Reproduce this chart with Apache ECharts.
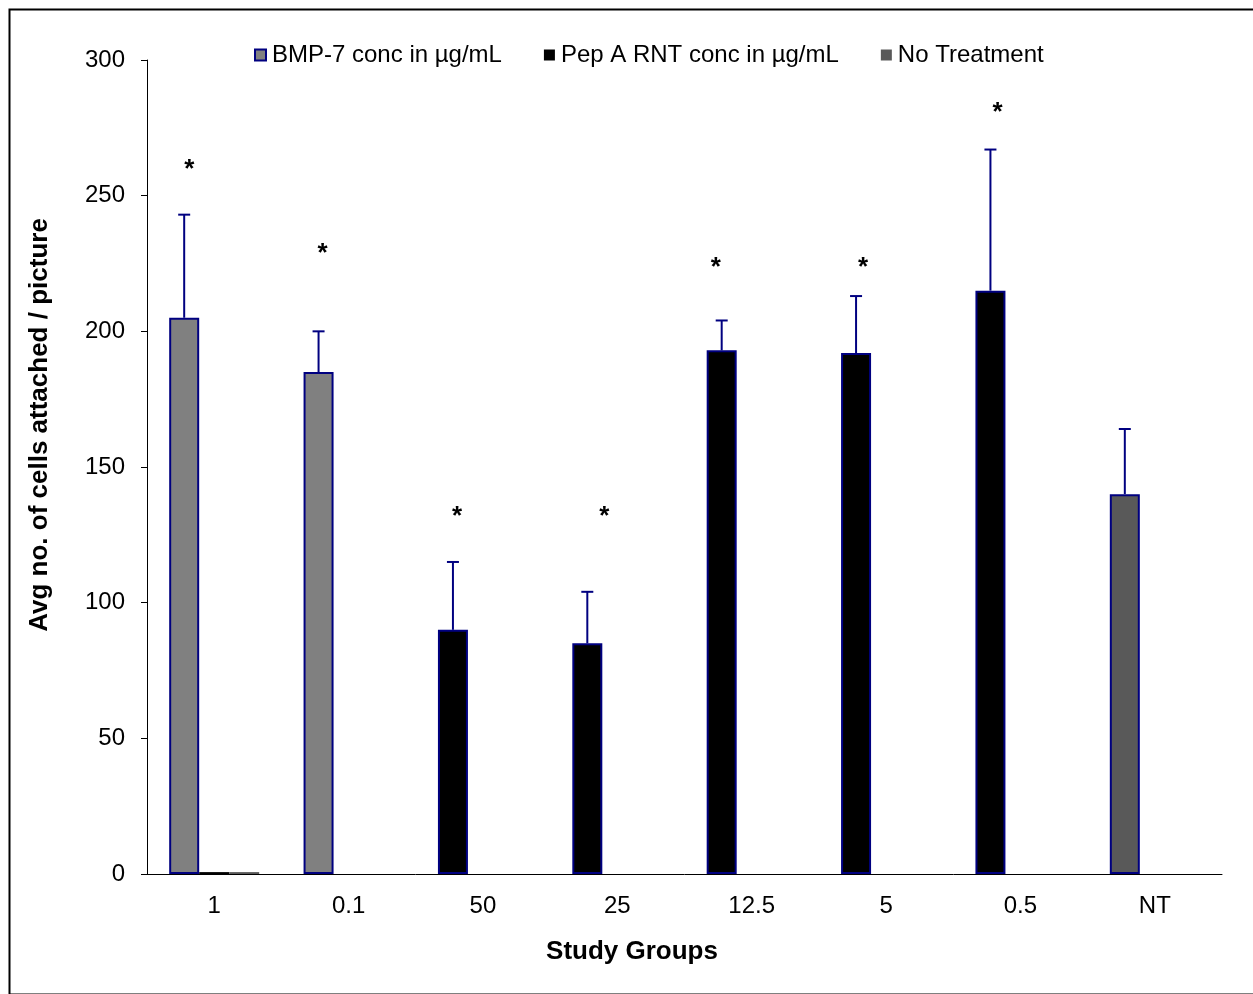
<!DOCTYPE html>
<html>
<head>
<meta charset="utf-8">
<script src="https://cdn.jsdelivr.net/npm/echarts@6/dist/echarts.min.js"></script>
<style>
	html, body { margin: 0; padding: 0; background: #fff; }
	#chart { width: 1253px; height: 994px; }
</style>
</head>
<body>
<div id="chart"></div>
<script>
var groups = ['1', '0.1', '50', '25', '12.5', '5', '0.5', 'NT'];
var groupKind = ['bmp', 'bmp', 'pep', 'pep', 'pep', 'pep', 'pep', 'nt'];
var means = [205, 185, 90, 85, 193, 192, 215, 140];
var errUp = [38, 15, 25, 19, 11, 21, 52, 24];
var starAt = [261, 230, 133, 133, 225, 225, 282, null];
var pepLegendVals = [0.7, null, null, null, null, null, null, null];
var ntLegendVals = [0.7, null, null, null, null, null, null, null];

(function() {
	var navy = '#000080';
	var fills = { bmp: '#808080', pep: '#000000', nt: '#595959' };
	var barW = 30;
	var starNudge = [5, 4, 4, 17, -6, 7, 7, 0]; // hand-placed asterisks in the original
	var font = '"Liberation Sans", Arial, sans-serif';

	var chart = echarts.init(document.getElementById('chart'));

	var mainData = means.map(function(v, i) {
		return { value: v, itemStyle: { color: fills[groupKind[i]] } };
	});

	chart.setOption({
		animation: false,
		textStyle: { fontFamily: font },
		grid: { left: 147, right: 31, top: 60, bottom: 120 },
		legend: {
			top: 38, left: 249,
			itemWidth: 11, itemHeight: 11, itemGap: 42,
			icon: 'rect',
			textStyle: { fontSize: 24, color: '#000', fontFamily: font, padding: [0, 0, 0, 1] },
			data: ['BMP-7 conc in µg/mL', 'Pep A RNT conc in µg/mL', 'No Treatment']
		},
		xAxis: {
			type: 'category',
			data: groups,
			axisLine: { lineStyle: { color: '#000', width: 1 } },
			axisTick: { length: 6, lineStyle: { color: '#000' } },
			axisLabel: { fontSize: 24, color: '#000', margin: 20 }
		},
		yAxis: {
			type: 'value', min: 0, max: 300, interval: 50,
			splitLine: { show: false },
			axisLine: { show: true, lineStyle: { color: '#000', width: 1 } },
			axisTick: { show: true, length: 6, lineStyle: { color: '#000' } },
			axisLabel: { fontSize: 24, color: '#000', margin: 22 }
		},
		series: [
			{
				name: 'BMP-7 conc in µg/mL',
				type: 'bar',
				barWidth: barW, barGap: '0%',
				itemStyle: { color: fills.bmp, borderColor: navy, borderWidth: 2 },
				data: mainData
			},
			{
				name: 'Pep A RNT conc in µg/mL',
				type: 'bar',
				barWidth: barW,
				itemStyle: { color: fills.pep },
				data: pepLegendVals
			},
			{
				name: 'No Treatment',
				type: 'bar',
				barWidth: barW,
				itemStyle: { color: fills.nt },
				data: ntLegendVals
			},
			{
				type: 'custom',
				silent: true,
				z: 3,
				data: means.map(function(m, i) { return [i, m, m + errUp[i]]; }),
				renderItem: function(params, api) {
					var lo = api.coord([api.value(0), api.value(1)]);
					var hi = api.coord([api.value(0), api.value(2)]);
					var x = lo[0] - barW;
					return {
						type: 'group',
						children: [
							{ type: 'line', shape: { x1: x, y1: lo[1], x2: x, y2: hi[1] }, style: { stroke: navy, lineWidth: 2 } },
							{ type: 'line', shape: { x1: x - 6, y1: hi[1], x2: x + 6, y2: hi[1] }, style: { stroke: navy, lineWidth: 2 } }
						]
					};
				}
			},
			{
				type: 'custom',
				silent: true,
				z: 4,
				data: starAt.map(function(v, i) { return [i, v]; }).filter(function(d) { return d[1] != null; }),
				renderItem: function(params, api) {
					var i = api.value(0);
					var p = api.coord([i, api.value(1)]);
					return {
						type: 'text',
						x: p[0] - barW + starNudge[i], y: p[1] + 4,
						style: { text: '*', font: 'bold 26px ' + font, fill: '#000', align: 'center', verticalAlign: 'middle' }
					};
				}
			}
		],
		graphic: [
			{ type: 'rect', left: 7, top: 7, shape: { width: 1260, height: 985 }, style: { fill: null, stroke: '#000', lineWidth: 2 }, silent: true },
			{ type: 'text', x: 40, y: 425, rotation: Math.PI / 2, style: { text: 'Avg no. of cells attached / picture', font: 'bold 26px ' + font, fill: '#000', align: 'center', verticalAlign: 'middle' } },
			{ type: 'text', x: 632, y: 952, style: { text: 'Study Groups', font: 'bold 26px ' + font, fill: '#000', align: 'center', verticalAlign: 'middle' } }
		]
	});
})();
</script>
</body>
</html>
